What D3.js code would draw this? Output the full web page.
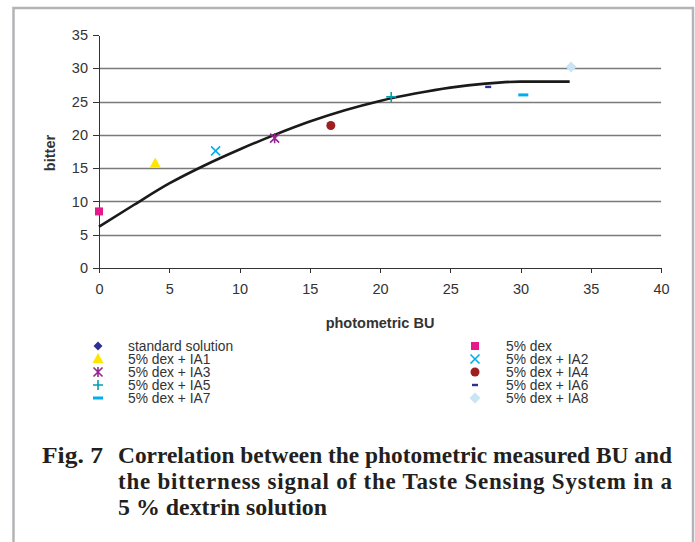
<!DOCTYPE html>
<html lang="en">
<head>
<meta charset="utf-8">
<title>Fig. 7 bitter vs photometric BU</title>
<script src="https://cdn.jsdelivr.net/npm/d3@7"></script>
<style>
  body { margin: 0; background: #fff; }
  .axis path, .axis line { stroke: #333; shape-rendering: crispEdges; }
  .axis text { font-family: "Liberation Sans", Arial, sans-serif; font-size: 14.5px; fill: #333; }
</style>
</head>
<body>
<script>
// measured points, one per series
var seriesNames = ["standard solution", "5% dex", "5% dex + IA1", "5% dex + IA2", "5% dex + IA3",
                   "5% dex + IA4", "5% dex + IA5", "5% dex + IA6", "5% dex + IA7", "5% dex + IA8"];
var seriesX = [null, 0, 4.0, 8.3, 12.5, 16.5, 20.8, 27.7, 30.2, 33.6];
var seriesY = [null, 8.5, 15.7, 17.6, 19.5, 21.4, 25.7, 27.2, 26.0, 30.2];

// trend line
var trendX = [0, 2.5, 5, 7.5, 10, 12.5, 15, 17.5, 20, 22.5, 25, 27.5, 30, 33.5];
var trendY = [6.2, 9.5, 12.7, 15.4, 17.8, 20.0, 22.0, 23.7, 25.1, 26.2, 27.1, 27.7, 28.0, 28.0];

var xTicks = [0, 5, 10, 15, 20, 25, 30, 35, 40];
var yTicks = [0, 5, 10, 15, 20, 25, 30, 35];
var gridTicks = [5, 10, 15, 20, 25, 30];

var captionLines = ["Correlation between the photometric measured BU and",
                    "the bitterness signal of the Taste Sensing System in a",
                    "5 % dextrin solution"];

var w = 695, h = 542;
var svg = d3.select("body").append("svg").attr("width", w).attr("height", h);

// page frame
svg.append("path")
   .attr("d", "M13.5,542 L13.5,8 L693,8 L693,542")
   .attr("fill", "none").attr("stroke", "#b4b4b8").attr("stroke-width", 2.5);

var xScale = d3.scaleLinear().domain([0, 40]).range([99, 661]);
var yScale = d3.scaleLinear().domain([0, 35]).range([268, 35]);

// gridlines
svg.selectAll(".grid").data(gridTicks).enter().append("line")
   .attr("x1", xScale(0)).attr("x2", xScale(40))
   .attr("y1", function(d) { return Math.round(yScale(d)) + 0.5; })
   .attr("y2", function(d) { return Math.round(yScale(d)) + 0.5; })
   .attr("stroke", "#7a7a7a").attr("stroke-width", 1.3);

var xAxis = d3.axisBottom(xScale).tickValues(xTicks).tickSize(5).tickSizeOuter(0).tickPadding(11);
var yAxis = d3.axisLeft(yScale).tickValues(yTicks).tickSize(6).tickSizeOuter(0).tickPadding(5);

svg.append("g").attr("class", "axis")
   .attr("transform", "translate(0," + yScale(0) + ")").call(xAxis)
   .select(".domain").attr("stroke-width", 1.5);
svg.append("g").attr("class", "axis")
   .attr("transform", "translate(" + xScale(0) + ",0)").call(yAxis)
   .select(".domain").attr("stroke-width", 1.5);

svg.append("text").attr("x", 380).attr("y", 328).attr("text-anchor", "middle")
   .style("font-family", "Liberation Sans, Arial, sans-serif").style("font-size", "14.5px")
   .style("font-weight", "bold").attr("fill", "#333").text("photometric BU");

svg.append("text").attr("transform", "translate(55,153) rotate(-90)").attr("text-anchor", "middle")
   .style("font-family", "Liberation Sans, Arial, sans-serif").style("font-size", "14.5px")
   .style("font-weight", "bold").attr("fill", "#333").text("bitter");

// trend line
var trend = trendX.map(function(x, i) { return [x, trendY[i]]; });
svg.append("path").datum(trend)
   .attr("d", d3.line().x(function(d) { return xScale(d[0]); })
                       .y(function(d) { return yScale(d[1]); })
                       .curve(d3.curveMonotoneX))
   .attr("fill", "none").attr("stroke", "#1a1a1a").attr("stroke-width", 2.6);

// marker drawing
var colors = ["#2e3192", "#e6198c", "#ffe600", "#00aeef", "#93278f",
              "#9e1f1f", "#00a0b0", "#2e3192", "#00aeef", "#c9e5f5"];
function drawMarker(g, i) {
  var c = colors[i];
  if (i === 0) {
    g.append("path").attr("d", "M0,-4.5 L4.5,0 L0,4.5 L-4.5,0 Z").attr("fill", c);
  } else if (i === 9) {
    g.append("path").attr("d", "M0,-5.5 L5.5,0 L0,5.5 L-5.5,0 Z").attr("fill", c);
  } else if (i === 1) {
    g.append("rect").attr("x", -4).attr("y", -4).attr("width", 8).attr("height", 8).attr("fill", c);
  } else if (i === 2) {
    g.append("path").attr("d", "M0,-6 L5.5,4 L-5.5,4 Z").attr("fill", c);
  } else if (i === 3) {
    g.append("path").attr("d", "M-4.5,-4.5 L4.5,4.5 M-4.5,4.5 L4.5,-4.5").attr("stroke", c).attr("stroke-width", 1.6);
  } else if (i === 4) {
    g.append("path").attr("d", "M-4.5,-4.5 L4.5,4.5 M-4.5,4.5 L4.5,-4.5 M0,-5 L0,5").attr("stroke", c).attr("stroke-width", 1.6);
  } else if (i === 5) {
    g.append("circle").attr("r", 4.5).attr("fill", c);
  } else if (i === 6) {
    g.append("path").attr("d", "M-5,0 L5,0 M0,-5 L0,5").attr("stroke", c).attr("stroke-width", 1.6);
  } else if (i === 7) {
    g.append("rect").attr("x", -3).attr("y", -1.2).attr("width", 6).attr("height", 2.4).attr("fill", c);
  } else if (i === 8) {
    g.append("rect").attr("x", -5).attr("y", -1.5).attr("width", 10).attr("height", 3).attr("fill", c);
  }
}

seriesNames.forEach(function(name, i) {
  if (seriesX[i] === null) return;
  var g = svg.append("g").attr("transform", "translate(" + xScale(seriesX[i]) + "," + yScale(seriesY[i]) + ")");
  drawMarker(g, i);
});

// legend
var legendRows = [346, 359, 372, 385, 398];
seriesNames.forEach(function(name, i) {
  var col = i % 2, row = Math.floor(i / 2);
  var mx = col === 0 ? 98 : 475, tx = col === 0 ? 128 : 506;
  var g = svg.append("g").attr("transform", "translate(" + mx + "," + legendRows[row] + ")");
  drawMarker(g, i);
  svg.append("text").attr("x", tx).attr("y", legendRows[row] + 5)
     .style("font-family", "Liberation Sans, Arial, sans-serif").style("font-size", "13.8px")
     .attr("fill", "#333").text(name);
});

// caption
var capFont = "Liberation Serif, Times New Roman, serif";
svg.append("text").attr("x", 42).attr("y", 463).attr("textLength", 61).attr("lengthAdjust", "spacingAndGlyphs")
   .style("font-family", capFont).style("font-size", "23px").style("font-weight", "bold")
   .attr("fill", "#231f20").text("Fig. 7");
var capLen = [554, 554, 209];
svg.selectAll(".cap").data(captionLines).enter().append("text")
   .attr("x", 118).attr("y", function(d, i) { return 463 + i * 26; })
   .attr("textLength", function(d, i) { return capLen[i]; })
   .attr("lengthAdjust", function(d, i) { return i === 1 ? "spacing" : "spacingAndGlyphs"; })
   .style("font-family", capFont).style("font-size", "23px").style("font-weight", "bold")
   .attr("fill", "#231f20").text(function(d) { return d; });
</script>
</body>
</html>
